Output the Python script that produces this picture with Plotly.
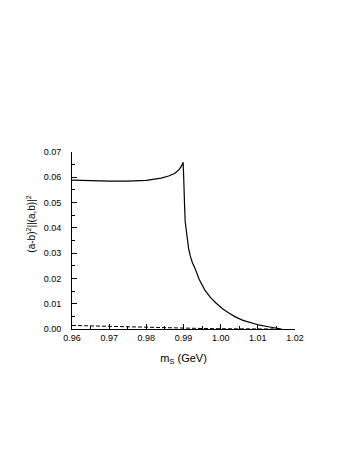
import plotly.graph_objects as go

# solid curve
ms_solid = [0.9600, 0.9650, 0.9700, 0.9750, 0.9800, 0.9840, 0.9860, 0.9876, 0.9888,
            0.9894, 0.9899, 0.99005, 0.9901, 0.9903, 0.99046, 0.9908, 0.9911, 0.99137,
            0.9918, 0.9924, 0.9932, 0.9942, 0.99575, 0.9973, 0.9988, 1.0005, 1.0022,
            1.0038, 1.0060, 1.0083, 1.0105, 1.0128, 1.0146, 1.0164]
ratio_solid = [0.0589, 0.0586, 0.0585, 0.0585, 0.0588, 0.0597, 0.0605, 0.0615, 0.0630,
               0.0643, 0.0659, 0.0600, 0.0556, 0.0485, 0.0424, 0.0375, 0.0342, 0.0319,
               0.0290, 0.0262, 0.0236, 0.0197, 0.0154, 0.0124, 0.0102, 0.0080, 0.0063,
               0.0049, 0.0034, 0.0023, 0.0015, 0.0009, 0.0004, 0.0000]

# dashed curve
ms_dash = [0.960, 0.965, 0.970, 0.975, 0.980, 0.985, 0.990, 0.995, 1.000, 1.005, 1.010, 1.015]
ratio_dash = [0.0014, 0.0012, 0.0010, 0.0008, 0.0006, 0.0004, 0.0003, 0.0002, 0.0001,
              0.0000, 0.0000, 0.0000]

fnt = "Liberation Sans, Arial, sans-serif"

fig = go.Figure()
fig.add_trace(go.Scatter(x=ms_dash, y=ratio_dash, mode="lines",
                         line=dict(color="black", width=1, dash="4px,2px")))
fig.add_trace(go.Scatter(x=ms_solid, y=ratio_solid, mode="lines",
                         line=dict(color="black", width=1.2)))

axis_common = dict(showline=True, linecolor="black", linewidth=1, showgrid=False,
                   zeroline=False, ticks="inside", ticklen=5, tickwidth=1, tickcolor="black",
                   tickfont=dict(family=fnt, size=9, color="black"))

fig.update_xaxes(range=[0.96, 1.02], dtick=0.01, tick0=0.96, tickformat=".2f",
                 minor=dict(ticks="inside", ticklen=3, dtick=0.005, tick0=0.96,
                            tickcolor="black"),
                 title=dict(text="m<sub>S</sub> (GeV)", standoff=12,
                            font=dict(family=fnt, size=11, color="black")),
                 **axis_common)
fig.update_yaxes(range=[0, 0.07], dtick=0.01, tickformat=".2f",
                 minor=dict(ticks="inside", ticklen=3, dtick=0.005, tickcolor="black"),
                 ticklabelstandoff=8,
                 **axis_common)

fig.add_annotation(text="(a-b)<sup>2</sup>||(a,b)|<sup>2</sup>", textangle=-90,
                   xref="paper", yref="paper", x=-0.188, y=0.59,
                   xanchor="center", yanchor="middle", showarrow=False,
                   font=dict(family=fnt, size=10, color="black"))

# page body adds an 8px offset, so margins are trimmed by that
fig.update_layout(width=354, height=458, showlegend=False,
                  margin=dict(l=64, r=67, t=144, b=137),
                  paper_bgcolor="white", plot_bgcolor="white")

fig.write_html("out.html")
